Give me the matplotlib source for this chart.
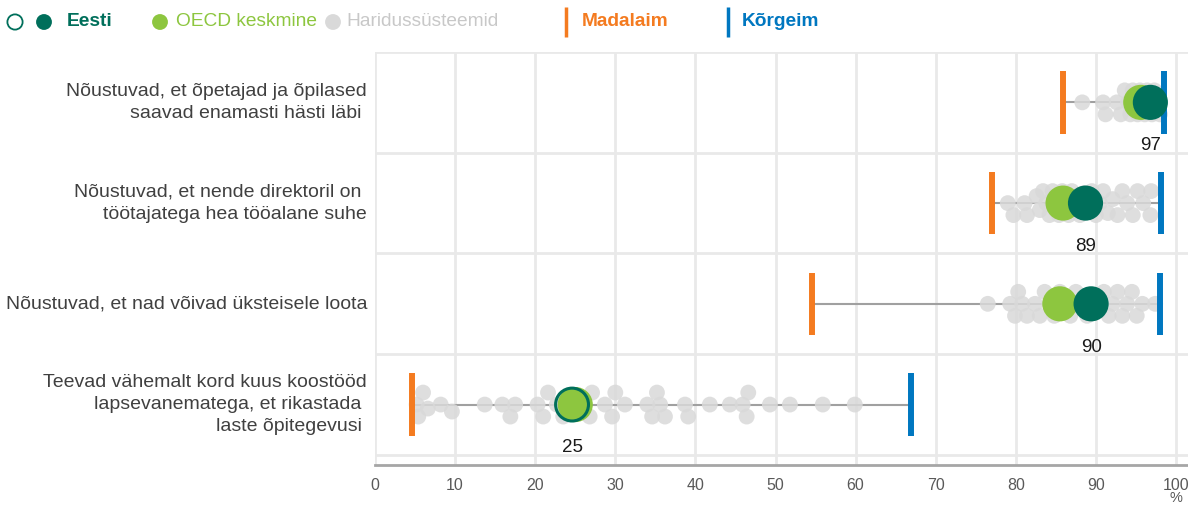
import numpy as np
import matplotlib
matplotlib.use("Agg")
import matplotlib.pyplot as plt
from matplotlib import font_manager as fm

# ---------------- data ----------------
categories = [
    "Nõustuvad, et õpetajad ja õpilased\nsaavad enamasti hästi läbi ",
    "Nõustuvad, et nende direktoril on \ntöötajatega hea tööalane suhe",
    "Nõustuvad, et nad võivad üksteisele loota",
    "Teevad vähemalt kord kuus koostööd\nlapsevanematega, et rikastada \nlaste õpitegevusi ",
]
eesti = [96.8, 88.7, 89.4, 24.6]
eesti_labels = ["97", "89", "90", "25"]
eesti_significant = [True, True, True, False]
oecd = [95.6, 85.9, 85.5, 25.0]
minimum = [85.9, 77.0, 54.6, 4.6]
maximum = [98.5, 98.1, 98.0, 66.9]
systems = [
    [88.3, 90.9, 91.2, 92.6, 93.1, 93.6, 94.0, 94.3, 94.6, 94.9, 95.2, 95.5,
     95.8, 96.1, 96.4, 96.7, 97.0, 97.3, 97.6, 98.0],
    [79.0, 79.7, 81.1, 81.4, 82.6, 83.0, 83.4, 83.8, 84.2, 84.6, 85.0, 85.4,
     85.8, 86.2, 86.6, 87.0, 87.5, 88.0, 88.5, 89.0, 89.5, 90.0, 90.5, 90.9,
     91.5, 92.1, 92.7, 93.3, 93.9, 94.6, 95.2, 95.9, 96.8, 96.9],
    [76.5, 79.3, 79.9, 80.3, 80.8, 81.4, 82.4, 83.0, 83.6, 84.2, 84.8, 85.5,
     86.2, 86.8, 87.5, 88.2, 88.9, 89.6, 90.3, 91.0, 91.6, 92.1, 92.7, 93.3,
     93.9, 94.5, 95.1, 95.8, 97.4],
    [5.2, 5.4, 6.0, 6.6, 8.2, 9.6, 13.7, 15.9, 16.9, 17.5, 20.3, 21.0, 21.6,
     22.7, 23.5, 26.0, 26.8, 27.1, 28.7, 29.6, 30.0, 31.2, 34.0, 34.6, 35.2,
     35.6, 36.2, 38.7, 39.1, 41.8, 44.3, 45.9, 46.4, 46.6, 49.3, 51.8, 55.9,
     59.9],
]
xticks = [0, 10, 20, 30, 40, 50, 60, 70, 80, 90, 100]

# ---------------- style ----------------
C_EESTI = "#006f5b"
C_OECD = "#8dc63f"
C_GRAY = "#d9d9d9"
C_MIN = "#f47b20"
C_MAX = "#0077c0"
C_TEXT = "#404040"

names = {f.name for f in fm.fontManager.ttflist}
NARROW = "Liberation Sans Narrow" if "Liberation Sans Narrow" in names else "Liberation Sans"
REG = "Liberation Sans"

W, H, DPI = 1188, 507, 100
fig = plt.figure(figsize=(W / DPI, H / DPI), dpi=DPI)
ax_l, ax_r, ax_b, ax_t = 375, 1188, 465, 52
ax = fig.add_axes([ax_l / W, 1 - ax_b / H, (ax_r - ax_l) / W, (ax_b - ax_t) / H])
xmax = (ax_r - ax_l) / 8.01
ax.set_xlim(0, xmax)
ax.set_ylim(3.6, -0.5)

px_x = 8.01
px_y = (ax_b - ax_t) / 4.1


def swarm(vals, diam=16.0, cands=(0, 7, -7, 12, -12, 4, -4, 10, -10)):
    vals = np.asarray(vals, float)
    offs = np.zeros(len(vals))
    placed = []
    for i in np.argsort(vals):
        x = vals[i] * px_x
        best, best_score = 0, np.inf
        for c in cands:
            score = 0.0
            for (px, py) in placed:
                d = np.hypot(x - px, c - py)
                score += max(0.0, 0.8 * diam - d)
            if score < best_score - 1e-9:
                best, best_score = c, score
            if score == 0:
                best = c
                break
        offs[i] = best
        placed.append((x, best))
    return offs / px_y


# grid
for t in xticks:
    ax.axvline(t, color="#e9e9e9", lw=2.0, zorder=0)
for yy in [-0.5, 0.5, 1.5, 2.5, 3.5]:
    ax.axhline(yy, color="#e9e9e9", lw=2.0, zorder=0)

for i in range(len(categories)):
    ax.plot([minimum[i], maximum[i]], [i, i], color="#a0a0a0", lw=1.5, zorder=1)
    vals = systems[i]
    offs = swarm(vals)
    ax.scatter(vals, np.full(len(vals), i) + offs, s=130, color=C_GRAY,
               alpha=0.85, edgecolors="none", zorder=2)
    ax.plot([minimum[i]] * 2, [i - 0.31, i + 0.31], color=C_MIN, lw=4.3,
            solid_capstyle="butt", zorder=3)
    ax.plot([maximum[i]] * 2, [i - 0.31, i + 0.31], color=C_MAX, lw=4.3,
            solid_capstyle="butt", zorder=3)
    ax.scatter([oecd[i]], [i], s=640, color=C_OECD, edgecolors="none", zorder=4)
    if eesti_significant[i]:
        ax.scatter([eesti[i]], [i], s=640, color=C_EESTI, edgecolors="none", zorder=5)
    else:
        ax.scatter([eesti[i]], [i], s=560, facecolors="none", edgecolors=C_EESTI,
                   linewidths=2.2, zorder=5)
    ax.text(eesti[i], i + 0.43, eesti_labels[i], ha="center", va="center",
            fontsize=13.5, family=REG, color="#1a1a1a", zorder=6)
    ax.text(-8 / px_x, i, categories[i], ha="right", va="center", fontsize=14,
            family=NARROW, color=C_TEXT, linespacing=1.4, clip_on=False)

ax.set_xticks(xticks)
ax.set_xticklabels([str(t) for t in xticks], family=NARROW, fontsize=11.5,
                   color="#595959")
ax.set_yticks([])
ax.tick_params(axis="x", length=0, pad=9)
for s in ["top", "right", "left"]:
    ax.spines[s].set_visible(False)
ax.spines["bottom"].set_color("#a6a6a6")
ax.spines["bottom"].set_linewidth(2.0)
ax.text(100, 3.6 + 33 / px_y, "%", ha="center", va="center", fontsize=10.5,
        family=NARROW, color="#595959", clip_on=False)

# legend (pixel coordinates in a top strip)
lg = fig.add_axes([0, 1 - 45 / H, 1, 45 / H])
lg.set_xlim(0, W)
lg.set_ylim(45, 0)
lg.axis("off")
yc = 22
FS = 13.8
lg.scatter([15], [yc], s=120, facecolors="none", edgecolors=C_EESTI, linewidths=1.3)
lg.scatter([44], [yc], s=130, color=C_EESTI, edgecolors="none")
lg.text(67, yc, "Eesti", ha="left", va="center", fontsize=FS, family=NARROW,
        weight="bold", color=C_EESTI)
lg.scatter([160], [yc], s=130, color=C_OECD, edgecolors="none")
lg.text(176, yc, "OECD keskmine", ha="left", va="center", fontsize=FS,
        family=NARROW, color=C_OECD)
lg.scatter([333], [yc], s=130, color=C_GRAY, edgecolors="none")
lg.text(346, yc, "Haridussüsteemid", ha="left", va="center", fontsize=FS,
        family=NARROW, color="#c8c8c8")
lg.plot([566, 566], [7, 37], color=C_MIN, lw=2.5, solid_capstyle="butt")
lg.text(582, yc, "Madalaim", ha="left", va="center", fontsize=FS,
        family=NARROW, weight="bold", color=C_MIN)
lg.plot([728, 728], [7, 37], color=C_MAX, lw=2.5, solid_capstyle="butt")
lg.text(742, yc, "Kõrgeim", ha="left", va="center", fontsize=FS,
        family=NARROW, weight="bold", color=C_MAX)

fig.savefig("out.png", dpi=DPI)
